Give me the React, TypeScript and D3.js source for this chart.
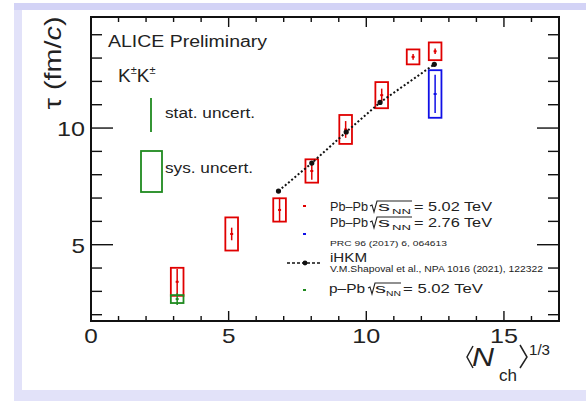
import React from 'react';
import * as d3 from 'd3';

// Pb-Pb 5.02 TeV
const nchPbPb502 = [3.13, 5.11, 6.85, 8.02, 9.25, 10.56, 11.7, 12.5];
const tauPbPb502 = [3.41, 5.46, 6.49, 8.16, 9.94, 11.41, 13.05, 13.29];
const statPbPb502 = [0.55, 0.27, 0.52, 0.38, 0.36, 0.28, 0.12, 0.12];
const sysPbPb502 = [0.6, 0.71, 0.5, 0.5, 0.62, 0.56, 0.32, 0.38];

// Pb-Pb 2.76 TeV
const nchPbPb276 = [12.5];
const tauPbPb276 = [11.46];
const statPbPb276 = [0.82];
const sysPbPb276 = [1.02];

// p-Pb 5.02 TeV
const nchPPb502 = [3.13];
const tauPPb502 = [2.67];
const statPPb502 = [0.25];
const sysPPb502 = [0.17];

// iHKM
const nchIHKM = [6.81, 8.02, 9.27, 10.5, 12.47];
const tauIHKM = [7.3, 8.5, 9.83, 11.1, 12.73];

const xMajor = [0, 5, 10, 15];
const yMajor = [5, 10];

const FONT = 'Liberation Sans, Arial, Helvetica, sans-serif';
const RED = '#e00000';
const BLUE = '#1010e6';
const GREEN = '#1f8a1f';

const x = d3.scaleLinear().domain([0, 17]).range([91, 559]);
const y = d3.scaleLinear().domain([1.73, 14.76]).range([321, 17]);
const boxHalf = 0.23;

const Txt = ({ x, y, size, len, anchor = 'start', italic = false, children }: any) => (
  <text
    x={x}
    y={y}
    fontSize={size}
    textAnchor={anchor}
    fontStyle={italic ? 'italic' : 'normal'}
    textLength={len}
    lengthAdjust="spacingAndGlyphs"
    fill="#222"
  >
    {children}
  </text>
);

const Series = ({ xs, ys, stat, sys, color }: any) => (
  <g>
    {xs.map((v: number, i: number) => (
      <g key={i}>
        <rect
          x={x(v - boxHalf)}
          y={y(ys[i] + sys[i])}
          width={x(v + boxHalf) - x(v - boxHalf)}
          height={y(ys[i] - sys[i]) - y(ys[i] + sys[i])}
          fill="none"
          stroke={color}
          strokeWidth={1.8}
        />
        <line x1={x(v)} x2={x(v)} y1={y(ys[i] + stat[i])} y2={y(ys[i] - stat[i])} stroke={color} strokeWidth={1.5} />
        <rect x={x(v) - 1.5} y={y(ys[i]) - 1} width={3} height={2} fill={color} />
      </g>
    ))}
  </g>
);

const Sqrt = ({ x0, x1, b }: any) => (
  <path
    d={`M${x0},${b - 5} L${x0 + 2},${b - 6} L${x0 + 4},${b + 1} L${x0 + 7},${b - 10} H${x1}`}
    fill="none"
    stroke="#222"
    strokeWidth={1.1}
  />
);

export default function App() {
  const xMinor = d3.range(0, 18, 1);
  const yMinor = d3.range(2, 15, 1);
  const line = d3.line<number>().x((d) => x(d)).y((_, i) => y(tauIHKM[i]));

  return (
    <svg width={586} height={403} style={{ position: 'absolute', left: 0, top: 0 }} fontFamily={FONT}>
      <rect x={0} y={0} width={586} height={403} fill="#fff" />
      <rect x={14} y={3} width={572} height={398} fill="#e2e2f9" />
      <rect x={14} y={3} width={572} height={7} fill="#d3d3f6" />
      <rect x={22} y={10} width={564} height={380} fill="#fff" />

      {/* ticks */}
      {xMinor.map((t) => {
        const L = xMajor.includes(t) ? 10 : 5;
        return (
          <g key={'x' + t}>
            <line x1={x(t)} x2={x(t)} y1={321} y2={321 - L} stroke="#111" strokeWidth={1.4} />
            <line x1={x(t)} x2={x(t)} y1={17} y2={17 + L} stroke="#111" strokeWidth={1.4} />
          </g>
        );
      })}
      {yMinor.map((t) => {
        const L = yMajor.includes(t) ? 22 : 11;
        return (
          <g key={'y' + t}>
            <line x1={91} x2={91 + L} y1={y(t)} y2={y(t)} stroke="#111" strokeWidth={1.4} />
            <line x1={559} x2={559 - L} y1={y(t)} y2={y(t)} stroke="#111" strokeWidth={1.4} />
          </g>
        );
      })}
      <rect x={91} y={17} width={468} height={304} fill="none" stroke="#111" strokeWidth={2} />

      {/* tick labels */}
      {xMajor.map((t) => (
        <Txt key={'xl' + t} x={x(t)} y={343} size={21} anchor="middle" len={t >= 10 ? 28 : 13.5}>
          {t}
        </Txt>
      ))}
      {yMajor.map((t) => (
        <Txt key={'yl' + t} x={85} y={y(t) + 8} size={21} anchor="end" len={t >= 10 ? 28 : 13.5}>
          {t}
        </Txt>
      ))}

      {/* axis titles */}
      <g transform="translate(61,63) rotate(-90)">
        <text x={0} y={0} fontSize={24} textAnchor="middle" textLength={93} lengthAdjust="spacingAndGlyphs" fill="#222">
          τ (fm/<tspan fontStyle="italic">c</tspan>)
        </text>
      </g>
      <path d="M473,346 L467,357 L473,368" fill="none" stroke="#222" strokeWidth={1.5} />
      <Txt x={472} y={366} size={25} italic len={22}>N</Txt>
      <Txt x={499} y={381} size={17} len={18}>ch</Txt>
      <path d="M520,345 L527,357 L520,368" fill="none" stroke="#222" strokeWidth={1.5} />
      <Txt x={529} y={355} size={14} len={21}>1/3</Txt>

      {/* data */}
      <Series xs={nchPbPb502} ys={tauPbPb502} stat={statPbPb502} sys={sysPbPb502} color={RED} />
      <Series xs={nchPPb502} ys={tauPPb502} stat={statPPb502} sys={sysPPb502} color={GREEN} />
      <Series xs={nchPbPb276} ys={tauPbPb276} stat={statPbPb276} sys={sysPbPb276} color={BLUE} />
      <path d={line(nchIHKM) || ''} fill="none" stroke="#111" strokeWidth={2} strokeDasharray="2,2.2" />
      {nchIHKM.map((v, i) => (
        <circle key={i} cx={x(v)} cy={y(tauIHKM[i])} r={2.6} fill="#111" />
      ))}

      {/* labels */}
      <Txt x={108} y={47} size={16} len={159}>ALICE Preliminary</Txt>
      <text x={118} y={82} fontSize={19} fill="#222">
        K<tspan fontSize={11} dy={-8}>±</tspan>
        <tspan dy={8}>K</tspan>
        <tspan fontSize={11} dy={-8}>±</tspan>
      </text>
      <line x1={151} x2={151} y1={98} y2={132} stroke={GREEN} strokeWidth={1.8} />
      <Txt x={165} y={118} size={14} len={90}>stat. uncert.</Txt>
      <rect x={141} y={151} width={21} height={41} fill="none" stroke={GREEN} strokeWidth={1.8} />
      <Txt x={165} y={173} size={14} len={88}>sys. uncert.</Txt>

      {/* legend */}
      <rect x={303} y={205} width={3} height={2} fill={RED} />
      <Txt x={330} y={211} size={13.5} len={38}>Pb–Pb</Txt>
      <Sqrt x0={370} x1={412} b={211} />
      <Txt x={378} y={211} size={13} len={12}>s</Txt>
      <Txt x={392} y={214} size={7} len={19}>NN</Txt>
      <Txt x={414} y={211} size={13.5} len={78}>= 5.02 TeV</Txt>

      <rect x={303} y={233} width={3} height={2} fill={BLUE} />
      <Txt x={330} y={227} size={13.5} len={38}>Pb–Pb</Txt>
      <Sqrt x0={370} x1={412} b={227} />
      <Txt x={378} y={227} size={13} len={12}>s</Txt>
      <Txt x={392} y={230} size={7} len={19}>NN</Txt>
      <Txt x={414} y={227} size={13.5} len={78}>= 2.76 TeV</Txt>
      <Txt x={330} y={245.5} size={8} len={117}>PRC 96 (2017) 6, 064613</Txt>

      <line x1={287} x2={322} y1={263} y2={263} stroke="#111" strokeWidth={1.5} strokeDasharray="3,2" />
      <circle cx={305} cy={263} r={2.4} fill="#111" />
      <Txt x={330} y={262} size={13.5} len={37}>iHKM</Txt>
      <Txt x={330} y={272} size={8.5} len={213}>V.M.Shapoval et al., NPA 1016 (2021), 122322</Txt>

      <rect x={303} y={289} width={3} height={2} fill={GREEN} />
      <Txt x={329} y={293} size={13.5} len={36}>p–Pb</Txt>
      <Sqrt x0={368} x1={401} b={293} />
      <Txt x={375} y={293} size={13} len={11}>s</Txt>
      <Txt x={386} y={296} size={7} len={15}>NN</Txt>
      <Txt x={403} y={293} size={13.5} len={80}>= 5.02 TeV</Txt>
    </svg>
  );
}
